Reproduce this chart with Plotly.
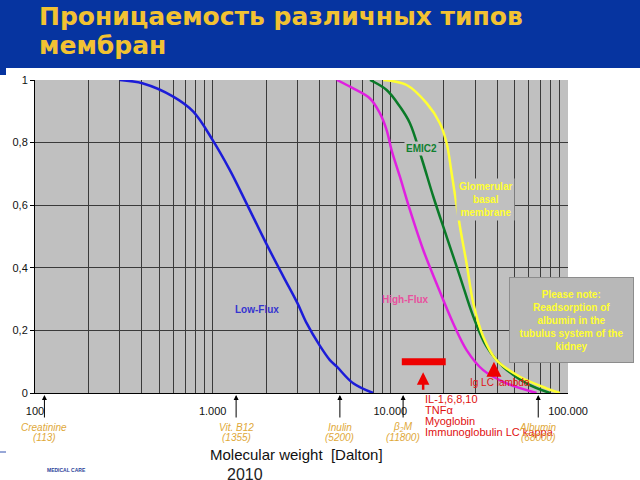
import math
import plotly.graph_objects as go

# ---------------- data ----------------
low_flux_x = [300, 406, 600, 778, 1000, 1250, 1550, 2000, 2500, 3000, 3380, 4000, 4570, 5000, 6180, 8000]
low_flux_y = [1.0, 0.989, 0.947, 0.899, 0.808, 0.712, 0.606, 0.478, 0.372, 0.287, 0.223, 0.152, 0.105, 0.084, 0.031, 0.0]

high_flux_x = [5000, 6180, 7680, 8730, 9530, 10160, 11320, 12890, 15320, 18200, 22570, 26870, 33330, 45100, 66500]
high_flux_y = [1.0, 0.973, 0.941, 0.894, 0.840, 0.776, 0.691, 0.585, 0.457, 0.350, 0.223, 0.137, 0.073, 0.031, 0.0]

emic2_x = [7680, 9530, 11320, 12890, 15000, 17460, 20750, 24660, 29310, 34820, 43150, 58400, 79100]
emic2_y = [1.0, 0.968, 0.915, 0.862, 0.750, 0.627, 0.499, 0.372, 0.244, 0.148, 0.084, 0.031, 0.0]

gbm_x = [9120, 12350, 16000, 19000, 20750, 22130, 24660, 26870, 29310, 33330, 39600, 53600, 75700, 90000]
gbm_y = [1.0, 0.984, 0.926, 0.862, 0.798, 0.702, 0.531, 0.414, 0.287, 0.180, 0.105, 0.052, 0.015, 0.0]

cytokine_range = [11600, 20500]
cytokine_level = [0.1, 0.1]
cytokine_arrow_mw = 15300
ig_lambda_mw = 38300

marker_mw = [113, 1355, 5200, 11800, 68000]
marker_names = ["<i>Creatinine</i>", "<i>Vit. B12</i>", "<i>Inulin</i>", "<i>β<sub>2</sub>M</i>", "<i>Albumin</i>"]
marker_values = ["<i>(113)</i>", "<i>(1355)</i>", "<i>(5200)</i>", "<i>(11800)</i>", "<i>(68000)</i>"]

x_major = [100, 1000, 10000, 100000]
x_major_text = ["100", "1.000", "10.000", "100.000"]
y_ticks = [0, 0.2, 0.4, 0.6, 0.8, 1.0]
y_tick_text = ["0", "0,2", "0,4", "0,6", "0,8", "1"]

title_lines = ["Проницаемость различных типов", "мембран"]
cytokine_lines = ["IL-1,6,8,10", "TNFα", "Myoglobin", "Immunoglobulin LC kappa"]
note_lines = ["Please note:", "Readsorption of", "albumin in the", "tubulus system of the", "kidney"]

# ---------------- layout helpers ----------------
W, H = 640, 480
L, R, T, B = 35, 72, 80, 87
PW, PH = W - L - R, H - T - B


def px(xp):
    return (xp - L) / PW


def py(yp):
    return (H - B - yp) / PH


FONT = "Liberation Sans, Arial, sans-serif"


def label(xp, yp, text, size, color, xanchor="center", bold=False, **kw):
    d = dict(xref="paper", yref="paper", x=px(xp), y=py(yp), xanchor=xanchor, yanchor="middle",
             text=("<b>%s</b>" % text) if bold else text, showarrow=False,
             font=dict(family=kw.pop("family", FONT), size=size, color=color))
    d.update(kw)
    return d


# all 1..9 x decade gridlines
x_grid = []
for d in [100, 1000, 10000]:
    for m in range(1, 10):
        x_grid.append(d * m)
x_grid.append(100000)
x_grid_text = [x_major_text[x_major.index(v)] if v in x_major else "" for v in x_grid]

fig = go.Figure()

fig.add_trace(go.Scatter(x=low_flux_x, y=low_flux_y, mode="lines",
                         line=dict(color="#1c1cd8", width=2.5, shape="spline")))
fig.add_trace(go.Scatter(x=high_flux_x, y=high_flux_y, mode="lines",
                         line=dict(color="#e020e0", width=2.5, shape="spline")))
fig.add_trace(go.Scatter(x=emic2_x, y=emic2_y, mode="lines",
                         line=dict(color="#0a7a28", width=2.5, shape="spline")))
fig.add_trace(go.Scatter(x=gbm_x, y=gbm_y, mode="lines",
                         line=dict(color="#ffff33", width=2.5, shape="spline")))
fig.add_trace(go.Scatter(x=cytokine_range, y=cytokine_level, mode="lines",
                         line=dict(color="#ee0000", width=7)))

ann = []
# curve labels (grey background hides the line under the label)
ann.append(label(257, 309, "Low-Flux", 10, "#3434d0", bold=True))
ann.append(label(405, 299, "High-Flux", 10, "#e8509e", bold=True))
ann.append(label(421, 148, "EMIC2", 10, "#108030", bold=True, bgcolor="#c0c0c0", borderpad=1))
ann.append(label(485, 199, "Glomerular<br>basal<br>membrane", 10, "#ffff30", bold=True,
                 bgcolor="#c0c0c0", borderpad=2))
# note box
ann.append(label(571, 320, "<br>".join(note_lines), 10, "#ffff30", bold=True,
                 bgcolor="#b8b8b8", bordercolor="#8c8c8c", borderwidth=1, width=121, height=82))
# red arrows and labels
ann.append(dict(xref="x", yref="y", x=math.log10(cytokine_arrow_mw), y=0.066, ax=0, ay=19,
                text="", showarrow=True, arrowhead=2, arrowsize=1, arrowwidth=2.5,
                arrowcolor="#ee0000"))
ann.append(dict(xref="x", yref="y", x=math.log10(ig_lambda_mw), y=0.1, ax=0, ay=12,
                text="", showarrow=True, arrowhead=2, arrowsize=1.2, arrowwidth=2.5,
                arrowcolor="#ee0000"))
ann.append(label(500, 382, "Ig LC lambda", 10, "#e01010"))
for i, line in enumerate(cytokine_lines):
    ann.append(label(423, 398.5 + i * 11.2, line, 11, "#e01010", xanchor="left"))
# black marker arrows + names below axis
for mw, nm, val in zip(marker_mw, marker_names, marker_values):
    ann.append(dict(xref="x", yref="paper", x=math.log10(mw), y=py(395), ax=0, ay=24,
                    text="", showarrow=True, arrowhead=2, arrowsize=1, arrowwidth=1,
                    arrowcolor="#000000"))
    ann.append(dict(xref="x", yref="paper", x=math.log10(mw), y=py(427), text=nm,
                    xanchor="center", yanchor="middle",
                    showarrow=False, font=dict(family=FONT, size=10, color="#e0a838")))
    ann.append(dict(xref="x", yref="paper", x=math.log10(mw), y=py(437), text=val,
                    xanchor="center", yanchor="middle",
                    showarrow=False, font=dict(family=FONT, size=10, color="#e0a838")))
# axis title & footer
ann.append(label(296, 455, "Molecular weight  [Dalton]", 15, "#111111"))
ann.append(label(245, 474, "2010", 16, "#222222"))
ann.append(label(45, 470, "MEDICAL CARE", 5, "#2a3f9a", xanchor="left", bold=True))
# title (two lines)
ann.append(label(37, 16, title_lines[0], 25, "#f2c232", xanchor="left", bold=True,
                 family="DejaVu Sans, sans-serif"))
ann.append(label(37, 46, title_lines[1], 25, "#f2c232", xanchor="left", bold=True,
                 family="DejaVu Sans, sans-serif"))

shapes = [
    dict(type="rect", xref="paper", yref="paper", x0=px(0), x1=px(W), y0=py(68), y1=py(0),
         fillcolor="#0634a0", line=dict(width=0), layer="below"),
    dict(type="rect", xref="paper", yref="paper", x0=px(0), x1=px(6), y0=py(75), y1=py(68),
         fillcolor="#0634a0", line=dict(width=0), layer="below"),
    dict(type="line", xref="paper", yref="paper", x0=px(0), x1=px(6), y0=py(452), y1=py(452),
         line=dict(color="#3050b0", width=1)),
]

fig.update_layout(
    width=W, height=H,
    margin=dict(l=L, r=R, t=T, b=B),
    paper_bgcolor="white",
    plot_bgcolor="#c0c0c0",
    showlegend=False,
    annotations=ann,
    shapes=shapes,
    xaxis=dict(type="log", range=[2, 5], tickmode="array", tickvals=x_grid, ticktext=x_grid_text,
               showgrid=True, gridcolor="#3a3a3a", gridwidth=1,
               showline=True, linecolor="#000000", linewidth=1,
               ticks="", ticklabelstandoff=8,
               tickfont=dict(family=FONT, size=11, color="#111111"), zeroline=False, fixedrange=True),
    yaxis=dict(range=[0, 1], tickmode="array", tickvals=y_ticks, ticktext=y_tick_text,
               showgrid=True, gridcolor="#3a3a3a", gridwidth=1,
               showline=True, linecolor="#000000", linewidth=1,
               ticks="outside", ticklen=4, tickcolor="#000000",
               tickfont=dict(family=FONT, size=11, color="#111111"), zeroline=False, fixedrange=True),
)

fig.write_html("out.html")
